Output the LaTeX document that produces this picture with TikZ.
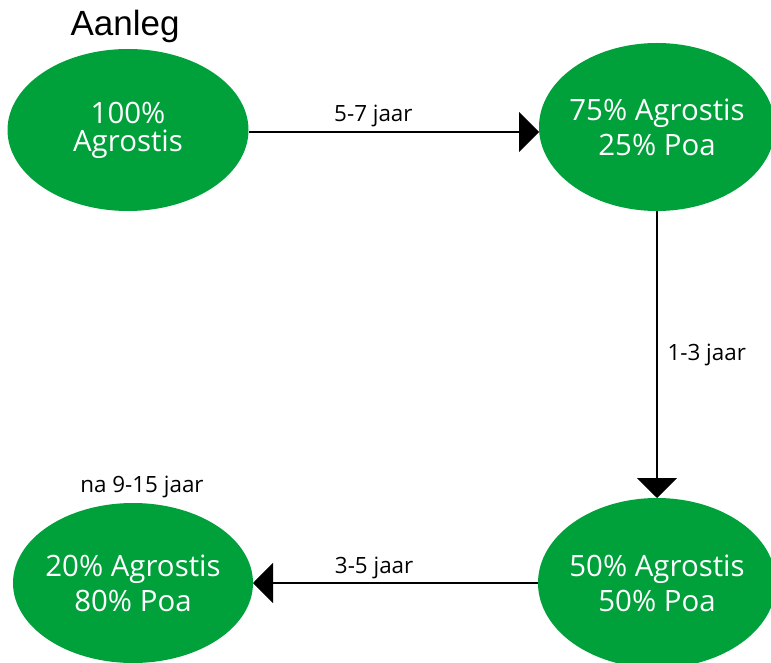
\documentclass[tikz,border=0pt]{standalone}
\usepackage{fontspec}
\setmainfont{Open Sans}
\newfontfamily\aanlegfont{Liberation Sans}
\usetikzlibrary{shapes.geometric,arrows.meta,positioning}
\definecolor{grasgreen}{RGB}{0,161,58}

\begin{document}
\begin{tikzpicture}[x=0.5pt, y=-0.5pt,
    grass/.style={ellipse, fill=grasgreen, text=white, align=center, inner xsep=-25pt, inner ysep=0pt, outer sep=0pt,
                  font=\fontsize{14.7}{17.5}\selectfont},
    flow/.style={-{Triangle[length=10pt,width=20pt]}, line width=0.6pt},
    years/.style={font=\fontsize{11.2}{13}\selectfont, inner sep=0pt}]
    \useasboundingbox (0,0) rectangle (771,663);

    % Step 1: new turf
    \node[grass, minimum width=120.5pt, minimum height=81pt,
          font=\fontsize{14.7}{14}\selectfont] (start) at (128,130) {100\%\\Agrostis};
    \node[anchor=base, inner sep=0pt, font=\aanlegfont\fontsize{17.5}{20}\selectfont] (aanleg) at (125,36) {Aanleg};

    % Step 2
    \node[grass, minimum width=118pt, minimum height=84pt] (mix75) at (657,127) {75\% Agrostis\\25\% Poa};

    % Step 3
    \node[grass, minimum width=119pt, minimum height=85pt] (mix50) at (657,583) {50\% Agrostis\\50\% Poa};

    % Step 4: final state
    \node[grass, minimum width=120pt, minimum height=80pt] (mix20) at (133,583) {20\% Agrostis\\80\% Poa};
    \node[years, anchor=base] (final) at (142,492) {na 9-15 jaar};

    % Arrows
    \draw[flow] (start.east |- 0,132) -- node[years, pos=0.43, anchor=base, yshift=5pt] (jaar57) {5-7 jaar} (mix75.west |- 0,132);
    \draw[flow] (mix75.south) -- node[years, midway, anchor=west, xshift=5pt] (jaar13) {1-3 jaar} (mix50.north);
    \draw[flow] (mix50.west) -- node[years, pos=0.575, anchor=base, yshift=5pt] (jaar35) {3-5 jaar} (mix20.east);
\end{tikzpicture}
\end{document}
